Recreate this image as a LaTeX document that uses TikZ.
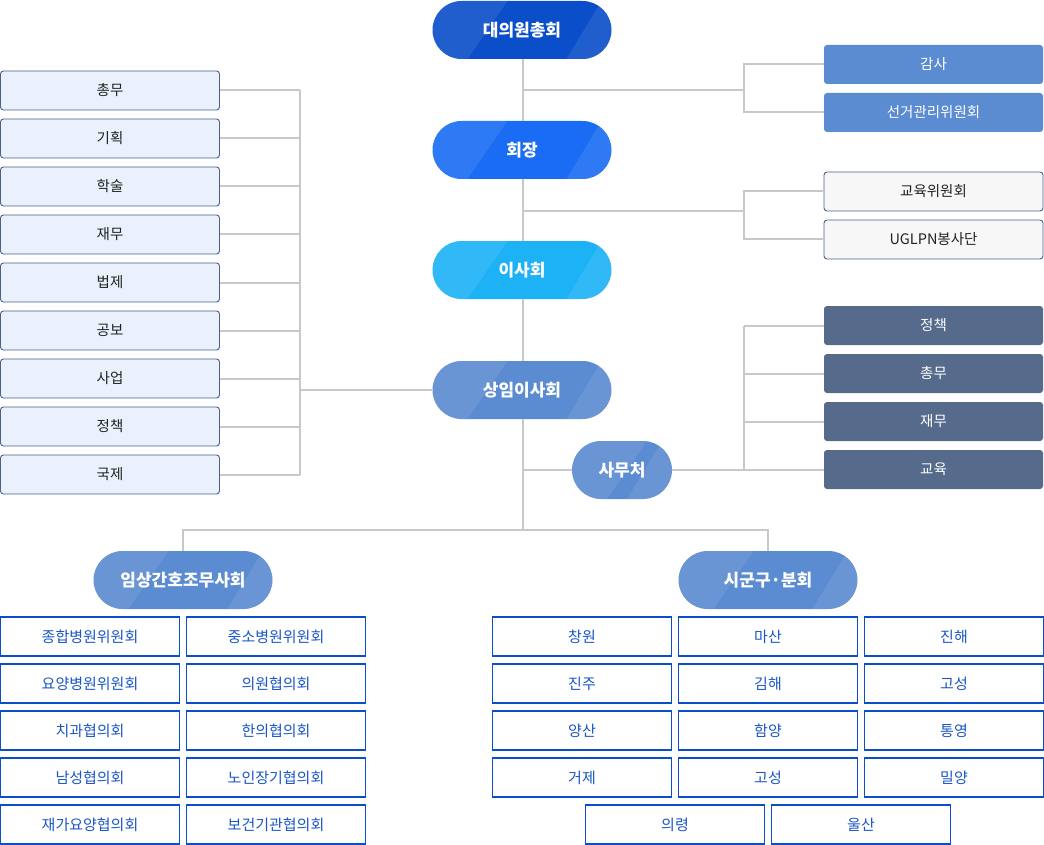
\documentclass[tikz,border=0pt]{standalone}
\usepackage{fontspec}
\setmainfont{Noto Sans CJK KR}
\definecolor{cDark}{HTML}{0A4FC9}
\definecolor{cMid}{HTML}{1A6CF4}
\definecolor{cCyan}{HTML}{1DB2F6}
\definecolor{cSoft}{HTML}{5B8BD0}
\definecolor{cLine}{HTML}{C8C8C8}
\definecolor{cLeftFill}{HTML}{EAF1FC}
\definecolor{cLeftDraw}{HTML}{4B6187}
\definecolor{cGrayFill}{HTML}{F7F7F7}
\definecolor{cSlate}{HTML}{566B8C}
\definecolor{cBlueText}{HTML}{1A56C4}
\definecolor{cText}{HTML}{222222}
\tikzset{
  pill/.style={minimum width=179pt, minimum height=58pt, inner sep=0pt,
    rounded corners=29pt, fill=#1, text=white,
    font=\bfseries\fontsize{17}{17}\selectfont,
    path picture={
      \fill[white, opacity=0.09, sharp corners]
        (path picture bounding box.south west) -- ++(35pt,0pt)
        -- ([xshift=75pt]path picture bounding box.north west)
        -- (path picture bounding box.north west) -- cycle;
      \fill[white, opacity=0.09, sharp corners]
        ([xshift=-45pt]path picture bounding box.south east)
        -- (path picture bounding box.south east)
        -- (path picture bounding box.north east)
        -- ([xshift=-10pt]path picture bounding box.north east) -- cycle;
    }},
  leftbox/.style={minimum width=219pt, minimum height=39pt, inner sep=0pt,
    rounded corners=3pt, fill=cLeftFill, draw=cLeftDraw, line width=0.9pt,
    text=cText, font=\fontsize{14.5}{14.5}\selectfont},
  rbox/.style={minimum width=219pt, minimum height=39pt, inner sep=0pt,
    rounded corners=3pt, fill=cSoft, text=white, font=\fontsize{14.5}{14.5}\selectfont},
  gbox/.style={minimum width=219pt, minimum height=39pt, inner sep=0pt,
    rounded corners=3pt, fill=cGrayFill, draw=cLeftDraw, line width=0.9pt,
    text=cText, font=\fontsize{14.5}{14.5}\selectfont},
  sbox/.style={minimum width=219pt, minimum height=39pt, inner sep=0pt,
    rounded corners=3pt, fill=cSlate, text=white, font=\fontsize{14.5}{14.5}\selectfont},
  bbox/.style={minimum width=179pt, minimum height=39pt, inner sep=0pt,
    fill=white, draw=cDark, line width=1.2pt,
    text=cBlueText, font=\fontsize{15}{15}\selectfont},
  conn/.style={draw=cLine, line width=2pt},
}
\begin{document}
\begin{tikzpicture}[x=1pt, y=-1pt]
\useasboundingbox (0,0) rectangle (1044,845);
\coordinate (tx) at (523,0);
\coordinate (lbx) at (300,0);
\coordinate (rbx) at (744,0);
\coordinate (tb) at (523,530);

% pills
\node[pill=cDark] (p1) at (522,30) {대의원총회};
\node[pill=cMid] (p2) at (522,150) {회장};
\node[pill=cCyan] (p3) at (522,270) {이사회};
\node[pill=cSoft] (p4) at (522,390) {상임이사회};
\node[pill=cSoft, minimum width=100pt] (p5) at (622,470) {사무처};
\node[pill=cSoft] (p6) at (183,580) {임상간호조무사회};
\node[pill=cSoft] (p7) at (768,580) {시군구·분회};

% left boxes
\foreach \t [count=\i] in {총무,기획,학술,재무,법제,공보,사업,정책,국제}{
  \node[leftbox] (L\i) at (110, 42.5+48*\i) {\t};
}
% right boxes
\node[rbox] (R1) at (933.5,64.5) {감사};
\node[rbox] (R2) at (933.5,112.5) {선거관리위원회};
\node[gbox] (G1) at (933.5,191.5) {교육위원회};
\node[gbox] (G2) at (933.5,239.5) {UGLPN봉사단};
\node[sbox] (S1) at (933.5,325.5) {정책};
\node[sbox] (S2) at (933.5,373.5) {총무};
\node[sbox] (S3) at (933.5,421.5) {재무};
\node[sbox] (S4) at (933.5,469.5) {교육};

% bottom left boxes
\foreach \a/\b [count=\i] in {종합병원위원회/중소병원위원회,요양병원위원회/의원협의회,치과협의회/한의협의회,남성협의회/노인장기협의회,재가요양협의회/보건기관협의회}{
  \node[bbox] (BL\i a) at (90, 589.5+47*\i) {\a};
  \node[bbox] (BL\i b) at (276, 589.5+47*\i) {\b};
}
% bottom right boxes
\foreach \a/\b/\c [count=\i] in {창원/마산/진해,진주/김해/고성,양산/함양/통영,거제/고성/밀양}{
  \node[bbox] (BR\i a) at (582, 589.5+47*\i) {\a};
  \node[bbox] (BR\i b) at (768, 589.5+47*\i) {\b};
  \node[bbox] (BR\i c) at (954, 589.5+47*\i) {\c};
}
\node[bbox] (BR5a) at (675,824.5) {의령};
\node[bbox] (BR5b) at (861,824.5) {울산};

% connectors
\draw[conn] (p1.south -| tx) -- (p2.north -| tx);
\draw[conn] (p2.south -| tx) -- (p3.north -| tx);
\draw[conn] (p3.south -| tx) -- (p4.north -| tx);
\draw[conn] (p4.south -| tx) -- (tb);
\draw[conn] (p6.north) |- (tb) -| (p7.north);
% left bracket
\foreach \i in {1,...,9}{ \draw[conn] (L\i.east) -- (L\i.east -| lbx); }
\draw[conn] (L1.east -| lbx) -- (L9.east -| lbx);
\draw[conn] (p4.west) -- (p4.west -| lbx);
% right top brackets
\coordinate (j1) at (523,90);
\coordinate (j2) at (523,211);
\draw[conn] (R1.west) -- (R1.west -| rbx) -- (R2.west -| rbx) -- (R2.west);
\draw[conn] (j1) -- (j1 -| rbx);
\draw[conn] (G1.west) -- (G1.west -| rbx) -- (G2.west -| rbx) -- (G2.west);
\draw[conn] (j2) -- (j2 -| rbx);
% secretariat bracket
\foreach \i in {1,...,4}{ \draw[conn] (S\i.west) -- (S\i.west -| rbx); }
\draw[conn] (S1.west -| rbx) -- (S4.west -| rbx);
\draw[conn] (p5.east) -- (p5.east -| rbx);
\draw[conn] (p5.west) -- (p5.west -| tx);
\end{tikzpicture}
\end{document}
